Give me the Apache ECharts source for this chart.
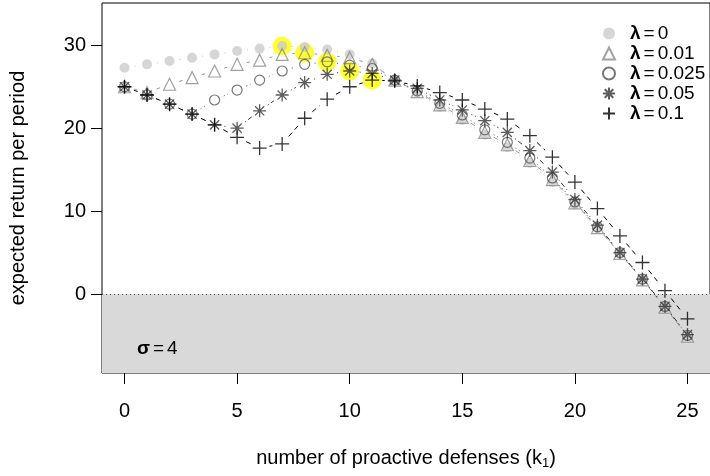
<!DOCTYPE html>
<html><head><meta charset="utf-8">
<script src="https://cdn.jsdelivr.net/npm/echarts/dist/echarts.min.js"></script>
<style>html,body{margin:0;padding:0;background:#fff}#c{width:710px;height:476px}</style>
</head><body><div id="c"></div>
<script>
const k = [0,1,2,3,4,5,6,7,8,9,10,11,12,13,14,15,16,17,18,19,20,21,22,23,24,25];
const seriesNames = ['λ = 0','λ = 0.01','λ = 0.025','λ = 0.05','λ = 0.1'];
const lam0   = [27.3,27.7,28.1,28.5,28.9,29.3,29.6,29.9,29.8,29.5,28.9,27.8,25.8,24.3,22.6,21.0,19.2,17.7,15.8,13.5,10.8,7.9,4.9,1.7,-1.6,-5.1];
const lam001 = [25.0,24.3,25.3,26.1,26.9,27.7,28.2,28.9,29.1,28.8,28.5,27.7,25.8,24.4,22.8,21.3,19.5,18.0,16.1,13.8,11.0,8.0,4.9,1.7,-1.6,-5.1];
const lam0025= [25.0,24.0,22.9,21.7,23.4,24.6,25.8,26.9,27.7,28.0,27.6,27.2,25.8,24.5,23.0,21.6,19.8,18.3,16.4,14.0,11.1,8.1,5.0,1.8,-1.5,-5.0];
const lam005 = [25.0,24.0,22.9,21.7,20.4,20.0,22.1,24.0,25.5,26.5,26.9,26.6,25.8,24.8,23.4,22.2,20.9,19.5,17.3,14.7,11.4,8.3,5.0,1.8,-1.5,-4.9];
const lam01  = [25.0,24.0,22.9,21.7,20.4,18.9,17.6,18.1,21.2,23.5,25.0,25.8,25.7,25.1,24.3,23.4,22.3,21.1,19.1,16.5,13.5,10.3,7.0,3.8,0.4,-3.0];
const xTicks = [0,5,10,15,20,25];
const yTicks = [0,10,20,30];
const sigmaLabel = '{s|σ}{e|=}4';

const allY = [lam0, lam001, lam0025, lam005, lam01];
const FONT = 'Liberation Sans, Arial, Helvetica, sans-serif';
const STAR = 'path://M5,0L5,10M0,5L10,5M1.46,1.46L8.54,8.54M8.54,1.46L1.46,8.54';
const PLUS = 'path://M5,0L5,10M0,5L10,5';
const styles = [
  {symbol:'circle', size:10, item:{color:'#cccccc'}, line:'#c4c4c4', dash:[1,3]},
  {symbol:'triangle', size:12, item:{color:'rgba(0,0,0,0)', borderColor:'#8a8a8a', borderWidth:1.2}, line:'#9a9a9a', dash:[5,4]},
  {symbol:'circle', size:10, item:{color:'rgba(0,0,0,0)', borderColor:'#555555', borderWidth:1.2}, line:'#555555', dash:[1,3]},
  {symbol:STAR, size:13, item:{color:'rgba(0,0,0,0)', borderColor:'#333333', borderWidth:1.3}, line:'#333333', dash:[1,3,5,3]},
  {symbol:PLUS, size:14, item:{color:'rgba(0,0,0,0)', borderColor:'#000000', borderWidth:1.3}, line:'#000000', dash:[5,4]}
];
const GAP = 10;

function segData(ys){ const d=[]; for(let i=0;i<k.length-1;i++) d.push([k[i],ys[i],k[i+1],ys[i+1]]); return d; }
function lineSeries(ys, color, dash){
  return {type:'custom', silent:true, z:2, clip:true, data:segData(ys), encode:{x:[0,2], y:[1,3]},
    renderItem:(params, api)=>{
      const p0 = api.coord([api.value(0), api.value(1)]);
      const p1 = api.coord([api.value(2), api.value(3)]);
      const dx = p1[0]-p0[0], dy = p1[1]-p0[1], L = Math.hypot(dx,dy);
      if (L <= 2*GAP) return {type:'group', children:[]};
      const ux = dx/L, uy = dy/L;
      return {type:'line', shape:{x1:p0[0]+ux*GAP, y1:p0[1]+uy*GAP, x2:p1[0]-ux*GAP, y2:p1[1]-uy*GAP},
        style:{stroke:color, lineWidth:1, lineDash:dash, fill:null}};
    }};
}
const maxPts = allY.map(ys => { let m=0; ys.forEach((v,i)=>{ if(v>ys[m]) m=i; }); return [k[m], ys[m]]; });

const series = [];
series.push({type:'scatter', name:'highlight', silent:true, z:1, symbol:'circle', symbolSize:19,
  itemStyle:{color:'#ffff00'}, data:maxPts,
  markArea:{silent:true, itemStyle:{color:'#d9d9d9'}, data:[[{yAxis:0},{yAxis:-9.53}]]},
  markLine:{silent:true, symbol:'none', label:{show:false}, lineStyle:{color:'#444', type:[1,3], width:1}, data:[{yAxis:0}]}
});
allY.forEach((ys,i)=> series.push(lineSeries(ys, styles[i].line, styles[i].dash)));
allY.forEach((ys,i)=> series.push({type:'scatter', name:seriesNames[i], z:3, symbol:styles[i].symbol,
  symbolSize:styles[i].size, itemStyle:styles[i].item, emphasis:{disabled:true},
  data:k.map((x,j)=>[x, ys[j]])}));

const chart = echarts.init(document.getElementById('c'), null, {renderer:'canvas'});
chart.setOption({
  animation:false,
  backgroundColor:'#ffffff',
  textStyle:{fontFamily:FONT},
  grid:{left:101, top:3, width:614, height:370, show:true, borderColor:'#000', borderWidth:1, backgroundColor:'rgba(0,0,0,0)'},
  xAxis:{type:'value', min:-1, max:26,
    axisLine:{show:false, onZero:false}, splitLine:{show:false},
    axisTick:{show:true, customValues:xTicks, length:11, lineStyle:{color:'#000', width:1}},
    axisLabel:{customValues:xTicks, margin:28, fontSize:20, color:'#000', fontFamily:FONT},
    name:'number of proactive defenses (k{sub|1})', nameLocation:'middle', nameGap:74,
    nameTextStyle:{fontSize:20, color:'#000', fontFamily:FONT, rich:{sub:{fontSize:13, color:'#000', fontFamily:FONT, padding:[10,0,0,0]}}}},
  yAxis:{type:'value', min:-9.53, max:35.1,
    axisLine:{show:false, onZero:false}, splitLine:{show:false},
    axisTick:{show:true, customValues:yTicks, length:11, lineStyle:{color:'#000', width:1}},
    axisLabel:{customValues:yTicks, margin:16, fontSize:20, color:'#000', fontFamily:FONT},
    name:'expected return per period', nameLocation:'middle', nameGap:74,
    nameTextStyle:{fontSize:20, color:'#000', fontFamily:FONT}},
  legend:{show:true, orient:'vertical', left:597, top:19, itemWidth:12, itemHeight:12, itemGap:1,
    data:seriesNames, selectedMode:false,
    formatter:(name)=> '{l|λ}{e|=}{t|' + name.split('= ')[1] + '}',
    textStyle:{fontSize:19, color:'#000', fontFamily:FONT,
      rich:{l:{fontSize:19, fontWeight:'bold', color:'#000', padding:[0,0,0,10], fontFamily:FONT},
            e:{fontSize:19, color:'#000', padding:[0,3,0,3], fontFamily:FONT},
            t:{fontSize:19, color:'#000', fontFamily:FONT}}}},
  graphic:[{type:'text', left:137, top:339, z:100, silent:true,
    style:{text:sigmaLabel, fontSize:19, fill:'#000', fontFamily:FONT,
      rich:{s:{fontSize:19, fontWeight:'bold', fill:'#000', fontFamily:FONT},
            e:{fontSize:19, fill:'#000', padding:[0,3,0,3], fontFamily:FONT}}}}],
  series:series
});
</script></body></html>
